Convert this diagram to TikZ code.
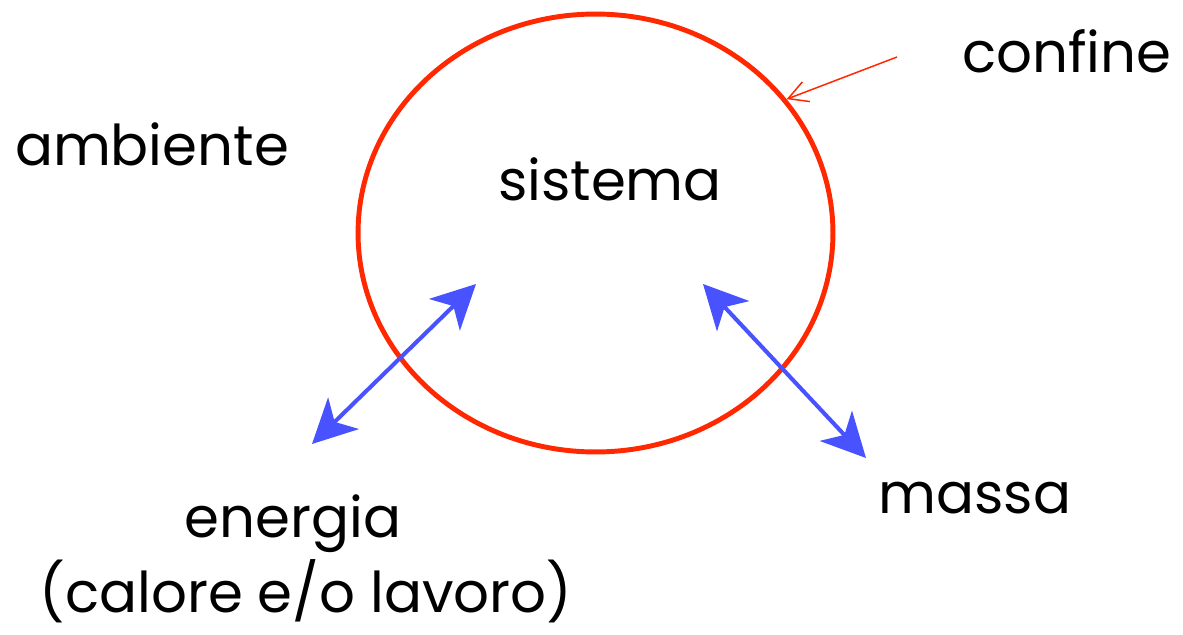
\documentclass[tikz,border=0pt]{standalone}
\usepackage{fontspec}
\setmainfont{Poppins}
\usepackage{tikz}
\usetikzlibrary{arrows.meta,shapes.geometric,positioning}
\definecolor{rossoconf}{RGB}{255,40,0}
\definecolor{bluflusso}{RGB}{72,82,255}

\begin{document}
\begin{tikzpicture}[
  x=0.02cm, y=-0.02cm,
  bordo/.style={ellipse, draw=rossoconf, line width=2.8pt, minimum width=9.5cm, minimum height=8.76cm, inner sep=0pt},
  testo/.style={anchor=base, inner sep=0pt, font=\fontsize{32}{38}\selectfont},
  flusso/.style={draw=bluflusso, line width=2.3pt, {Stealth[length=25pt, width=25pt, inset=7pt]}-{Stealth[length=25pt, width=25pt, inset=7pt]}},
  indica/.style={draw=rossoconf, line width=0.85pt, -{Straight Barb[length=11pt, width=12pt]}}
]
\useasboundingbox (0,0) rectangle (1183,635);
\node[bordo] (bordo) at (595.5,233) {};
\node[testo] (sistema) at (610,200) {sistema};
\node[testo] (ambiente) at (152,165) {ambiente};
\node[testo] (confine) at (1067,73) {confine};
\node[testo] (massa) at (975,513) {massa};
\node[testo] (energia) at (293,537) {energia};
\node[testo] (lavoro) at (306,612) {(calore e/o lavoro)};
% estremi delle frecce
\coordinate (en-out) at (312,444);
\coordinate (en-in) at (476,284);
\coordinate (ma-in) at (703,284);
\coordinate (ma-out) at (866,458);
\coordinate (conf-start) at (897,57);
\draw[flusso] (en-out) -- (en-in);
\draw[flusso] (ma-in) -- (ma-out);
\draw[indica] (conf-start) -- (bordo.35);
\end{tikzpicture}
\end{document}
